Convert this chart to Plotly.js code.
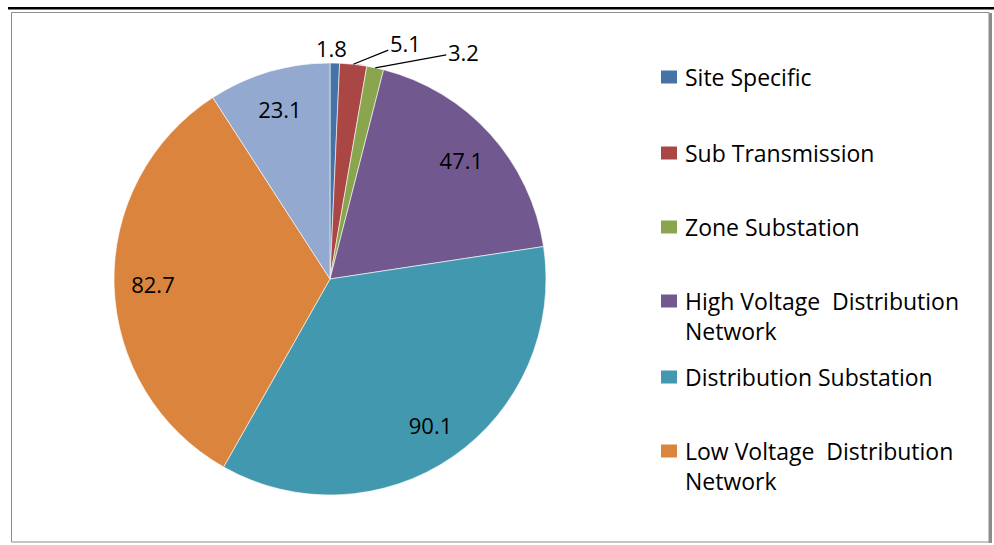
<!DOCTYPE html>
<html>
<head>
<meta charset="utf-8">
<script src="https://cdn.plot.ly/plotly-3.0.1.min.js"></script>
<style>html,body{margin:0;padding:0;background:#fff;}#chart{width:994px;height:545px;}</style>
</head>
<body>
<div id="chart"></div>
<script>
// ---- data ----
const categories = ["Site Specific", "Sub Transmission", "Zone Substation",
  "High Voltage Distribution Network", "Distribution Substation",
  "Low Voltage Distribution Network", "Other"];
const values = [1.8, 5.1, 3.2, 47.1, 90.1, 82.7, 23.1];
const legendLines = [["Site Specific"], ["Sub Transmission"], ["Zone Substation"],
  ["High Voltage  Distribution", "Network"], ["Distribution Substation"],
  ["Low Voltage  Distribution", "Network"]];
const colors = ["#4572A7", "#AA4643", "#89A54E", "#71588F", "#4198AF", "#DB843D", "#93A9CF"];

// ---- layout helpers ----
const W = 994, H = 545;
const px = x => x / W, py = y => 1 - y / H;
const FONT = "Open Sans, Lato, sans-serif";
const FS = 22;
const LFS = 23;

const cx = 330, cy = 279, r = 216;
const domain = {x: [px(cx - r), px(cx + r)], y: [py(cy + r), py(cy - r)]};
const isSmall = values.map(v => v < 10);

// main pie (slices)
const pie = {
  type: "pie",
  labels: categories,
  values: values,
  sort: false,
  direction: "clockwise",
  rotation: 0,
  marker: {colors: colors, line: {color: "rgba(255,255,255,0.6)", width: 1}},
  textinfo: "none",
  showlegend: false,
  domain: domain,
  automargin: false
};
// transparent ring carrying the inside value labels (placed at ~0.82 r)
const labelRing = {
  type: "pie",
  labels: categories,
  values: values,
  sort: false,
  direction: "clockwise",
  rotation: 0,
  hole: 0.64,
  marker: {colors: colors.map(() => "rgba(0,0,0,0)"), line: {width: 0}},
  texttemplate: "%{value}",
  textposition: isSmall.map(s => s ? "none" : "inside"),
  insidetextorientation: "horizontal",
  insidetextfont: {family: FONT, size: FS, color: "#000"},
  showlegend: false,
  hoverinfo: "skip",
  domain: domain,
  automargin: false
};

// outside labels with leader lines for the small slices
const total = values.reduce((a, b) => a + b, 0);
const offsets = [[-3, -15], [52, -21], [88, -16]]; // text offsets (px) from slice edge
const annotations = [];
let cum = 0;
let k = 0;
values.forEach((v, i) => {
  const mid = (cum + v / 2) / total * 2 * Math.PI;
  cum += v;
  if (!isSmall[i]) return;
  const ex = cx + r * Math.sin(mid), ey = cy - r * Math.cos(mid);
  const [ax, ay] = offsets[k++];
  annotations.push({
    xref: "paper", yref: "paper", x: px(ex), y: py(ey),
    text: String(v), showarrow: true, ax: ax, ay: ay,
    arrowhead: 0, arrowwidth: 1.3,
    arrowcolor: i === 0 ? "rgba(0,0,0,0)" : "#000",
    standoff: 0, startstandoff: 0,
    font: {family: FONT, size: FS, color: "#000"}
  });
});

const shapes = [
  // black rule at top
  {type: "line", xref: "paper", yref: "paper", x0: px(8), x1: 1, y0: py(8.3), y1: py(8.3),
   line: {color: "#000", width: 2.5}},
  // chart frame
  {type: "rect", xref: "paper", yref: "paper", x0: px(11.5), x1: px(989), y0: py(542), y1: py(12.5),
   line: {color: "#8c8c8c", width: 1}},
  {type: "line", xref: "paper", yref: "paper", x0: px(990.5), x1: px(990.5), y0: py(543), y1: py(13),
   line: {color: "#8c8c8c", width: 3}}
];
const itemY = [77, 153, 227, 301, 377, 451];
legendLines.forEach((lines, i) => {
  const y = itemY[i];
  shapes.push({type: "rect", xref: "paper", yref: "paper",
    x0: px(661), x1: px(677), y0: py(y + 6.5), y1: py(y - 6.5),
    fillcolor: colors[i], line: {width: 0}});
  lines.forEach((t, j) => {
    annotations.push({xref: "paper", yref: "paper", x: px(683), y: py(y + j * 30),
      xanchor: "left", yanchor: "middle", showarrow: false, text: t,
      font: {family: FONT, size: LFS, color: "#000"}});
  });
});

const layout = {
  width: W, height: H,
  margin: {l: 0, r: 0, t: 0, b: 0},
  paper_bgcolor: "#fff",
  showlegend: false,
  shapes: shapes,
  annotations: annotations
};

Plotly.newPlot("chart", [pie, labelRing], layout, {displayModeBar: false, staticPlot: true});
</script>
</body>
</html>
